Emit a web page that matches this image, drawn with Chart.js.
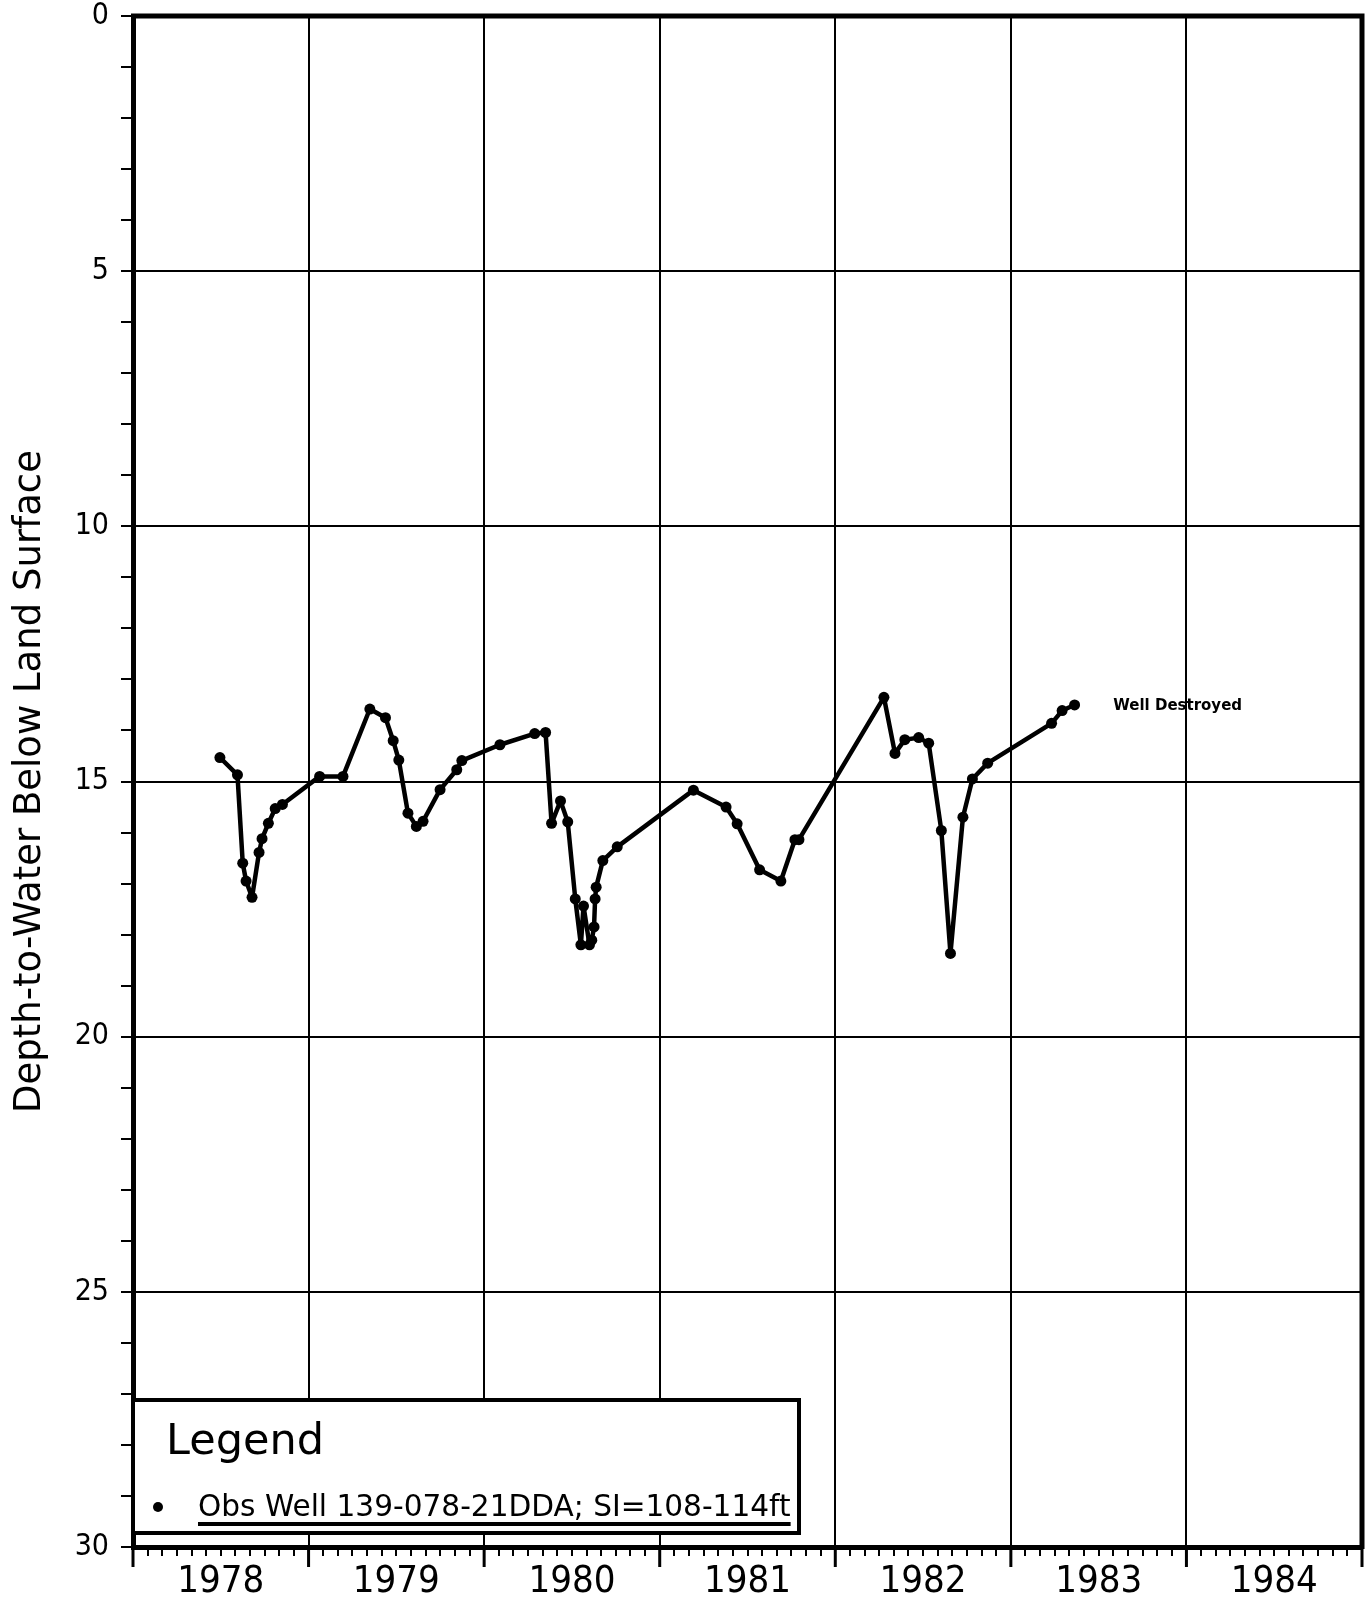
<!DOCTYPE html>
<html>
<head>
<meta charset="utf-8">
<title>Obs Well 139-078-21DDA</title>
<script src="https://cdn.jsdelivr.net/npm/chart.js@4.4.1/dist/chart.umd.min.js"></script>
<style>
  html, body { margin: 0; padding: 0; background: #fff; }
  #wrap { position: relative; width: 1369px; height: 1605px; }
</style>
</head>
<body>
<div id="wrap"><canvas id="wellChart"></canvas></div>
<script>
// measurement dates (decimal years) and depth to water (ft below land surface)
const dates = [
  1978.495, 1978.595, 1978.625, 1978.644, 1978.678, 1978.718, 1978.735, 1978.771, 1978.81, 1978.851,
  1979.063, 1979.196, 1979.349, 1979.438, 1979.482, 1979.514, 1979.566, 1979.614, 1979.652, 1979.749,
  1979.844, 1979.873,
  1980.09, 1980.288, 1980.35, 1980.384, 1980.435, 1980.476, 1980.519, 1980.551, 1980.566, 1980.6,
  1980.613, 1980.626, 1980.632, 1980.638, 1980.676, 1980.758,
  1981.192, 1981.378, 1981.441, 1981.569, 1981.69, 1981.77, 1981.793,
  1982.277, 1982.34, 1982.396, 1982.475, 1982.532, 1982.604, 1982.656, 1982.727, 1982.781, 1982.868,
  1983.232, 1983.292, 1983.363
];
const depths = [
  14.53, 14.87, 16.6, 16.95, 17.27, 16.39, 16.12, 15.82, 15.53, 15.45,
  14.9, 14.9, 13.58, 13.75, 14.2, 14.58, 15.62, 15.88, 15.78, 15.16,
  14.77, 14.59,
  14.28, 14.06, 14.04, 15.82, 15.38, 15.79, 17.3, 18.2, 17.44, 18.2,
  18.11, 17.85, 17.3, 17.07, 16.55, 16.28,
  15.17, 15.5, 15.83, 16.73, 16.95, 16.14, 16.14,
  13.35, 14.45, 14.18, 14.14, 14.25, 15.96, 18.37, 15.7, 14.95, 14.64,
  13.86, 13.61, 13.5
];

const yearLabels = ['1978', '1979', '1980', '1981', '1982', '1983', '1984'];
const depthLabels = [0, 5, 10, 15, 20, 25, 30];

const seriesName = 'Obs Well 139-078-21DDA; SI=108-114ft';
const yTitle = 'Depth-to-Water Below Land Surface';
const noteText = 'Well Destroyed';
const notePos = [1983.95, 13.52];

const NARROW = '"Liberation Sans Narrow", "DejaVu Sans Condensed", "Roboto Condensed", "DejaVu Sans", sans-serif';
const PLAIN = '"DejaVu Sans", sans-serif';

const firstYear = Number(yearLabels[0]);
const lastYear = firstYear + yearLabels.length;

function isWhole(v) {
  return Math.abs(v - Math.round(v)) < 1e-6;
}

// border on top / right, long ticks at year boundaries
const framePlugin = {
  id: 'frame',
  afterDraw(chart) {
    const { ctx, chartArea: a } = chart;
    const x = chart.scales.x;
    ctx.save();
    ctx.strokeStyle = '#000';
    ctx.lineWidth = 5;
    ctx.beginPath();
    ctx.moveTo(a.left - 2, a.top);
    ctx.lineTo(a.right, a.top);
    ctx.lineTo(a.right, a.bottom + 2);
    ctx.stroke();
    ctx.lineWidth = 3;
    for (let yr = firstYear; yr <= lastYear; yr++) {
      const px = x.getPixelForValue(yr);
      ctx.beginPath();
      ctx.moveTo(px, a.bottom);
      ctx.lineTo(px, a.bottom + 20);
      ctx.stroke();
    }
    ctx.restore();
  }
};

// boxed legend + note text
const legendBox = {
  id: 'legendBox',
  afterDatasetsDraw(chart) {
    const { ctx, chartArea: a } = chart;
    const left = a.left, right = 799, top = 1400, bottom = a.bottom - 14;
    ctx.save();
    ctx.fillStyle = '#fff';
    ctx.fillRect(left, top, right - left, bottom - top);
    ctx.strokeStyle = '#000';
    ctx.lineWidth = 4;
    ctx.strokeRect(left, top, right - left, bottom - top);

    ctx.fillStyle = '#000';
    ctx.textBaseline = 'alphabetic';
    ctx.textAlign = 'left';
    ctx.font = '43px ' + PLAIN;
    ctx.fillText('Legend', 166, 1454);

    ctx.beginPath();
    ctx.arc(158, 1507, 5, 0, Math.PI * 2);
    ctx.fill();

    ctx.font = '29.6px ' + PLAIN;
    ctx.fillText(seriesName, 198, 1516);
    const w = ctx.measureText(seriesName).width;
    ctx.fillRect(198, 1522, w, 4);

    ctx.font = 'bold 15px ' + PLAIN;
    ctx.textAlign = 'center';
    ctx.textBaseline = 'middle';
    ctx.fillText(noteText, chart.scales.x.getPixelForValue(notePos[0]),
      chart.scales.y.getPixelForValue(notePos[1]));
    ctx.restore();
  }
};

const points = dates.map((t, i) => ({ x: t, y: depths[i] }));

new Chart(document.getElementById('wellChart'), {
  type: 'scatter',
  data: {
    datasets: [{
      label: seriesName,
      data: points,
      showLine: true,
      borderColor: '#000',
      backgroundColor: '#000',
      borderWidth: 4.5,
      borderJoinStyle: 'round',
      borderCapStyle: 'round',
      pointRadius: 5.5,
      pointHoverRadius: 5.5,
      pointBorderWidth: 0,
      tension: 0
    }]
  },
  options: {
    responsive: true,
    maintainAspectRatio: false,
    animation: false,
    layout: { padding: { top: 16, right: 7, left: 0, bottom: 0 } },
    plugins: {
      legend: { display: false },
      tooltip: { enabled: false }
    },
    scales: {
      x: {
        type: 'linear',
        min: firstYear,
        max: lastYear,
        afterBuildTicks(scale) {
          const t = [];
          for (let m = 0; m <= yearLabels.length * 12; m++) t.push({ value: firstYear + m / 12 });
          scale.ticks = t;
        },
        afterFit(scale) {
          scale.height = 58;
          scale.paddingLeft = 0;
          scale.paddingRight = 0;
        },
        border: { display: true, color: '#000', width: 5 },
        grid: {
          lineWidth: 2,
          tickLength: 9,
          tickWidth: 2,
          tickColor: '#000',
          color: c => (c.tick && isWhole(c.tick.value) && c.tick.value > firstYear + 0.5 &&
            c.tick.value < lastYear - 0.5) ? '#000' : 'rgba(0,0,0,0)'
        },
        ticks: {
          autoSkip: false,
          maxRotation: 0,
          minRotation: 0,
          padding: 3,
          color: '#000',
          font: { family: NARROW, size: 38 },
          callback: (v, i) => (i % 12 === 6 ? yearLabels[Math.floor(i / 12)] : '')
        }
      },
      y: {
        type: 'linear',
        reverse: true,
        min: 0,
        max: 30,
        afterBuildTicks(scale) {
          const t = [];
          for (let d = 0; d <= 30; d++) t.push({ value: d });
          scale.ticks = t;
        },
        afterFit(scale) {
          scale.width = 133;
          scale.paddingTop = 0;
          scale.paddingBottom = 0;
        },
        border: { display: true, color: '#000', width: 5 },
        grid: {
          lineWidth: 2,
          tickLength: 12,
          tickWidth: 2,
          tickColor: '#000',
          color: c => (c.tick && c.tick.value % 5 === 0 && c.tick.value > 0 &&
            c.tick.value < 30) ? '#000' : 'rgba(0,0,0,0)'
        },
        ticks: {
          autoSkip: false,
          padding: 12,
          color: '#000',
          font: { family: NARROW, size: 30 },
          callback: v => (depthLabels.includes(v) ? String(v) : '')
        },
        title: {
          display: true,
          text: yTitle,
          color: '#000',
          font: { family: PLAIN, size: 37 },
          padding: { top: 8, bottom: 0 }
        }
      }
    }
  },
  plugins: [framePlugin, legendBox]
});
</script>
</body>
</html>
